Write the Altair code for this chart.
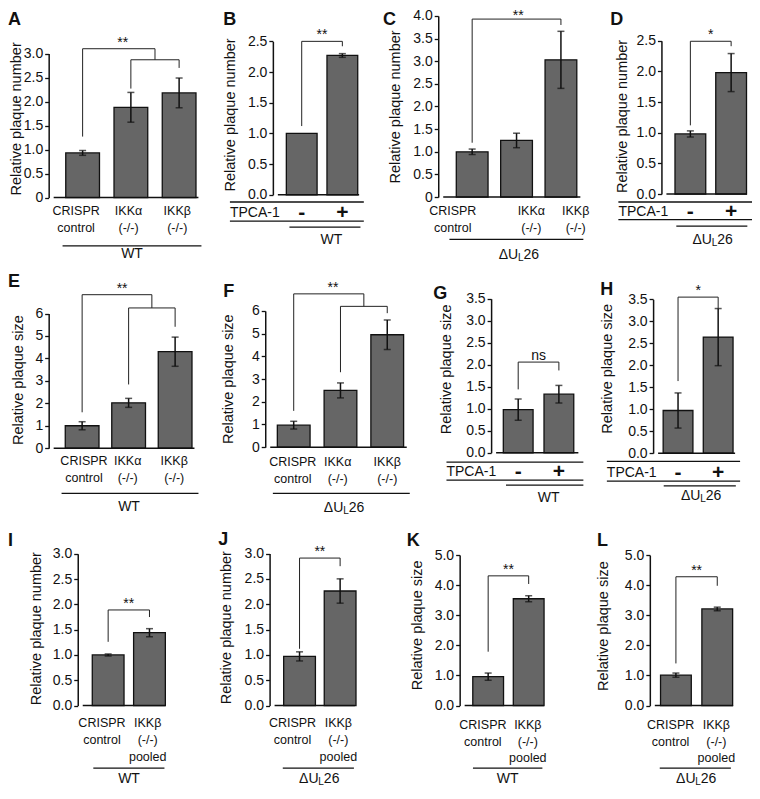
import altair as alt
import pandas as pd

FONT = "Liberation Sans"
INK = "#111111"
BAR = "#666666"

# ---------------- categories ----------------
ko3_labels = ["CRISPR\ncontrol", "IKKα\n(-/-)", "IKKβ\n(-/-)"]
tpca_labels = ["-", "+"]
pooled_labels = ["CRISPR\ncontrol", "IKKβ\n(-/-)\npooled"]

# ---------------- values (mean, error) ----------------
A_vals = [0.93, 1.88, 2.18]
A_errs = [0.05, 0.31, 0.31]
B_vals = [1.00, 2.27]
B_errs = [0.0, 0.03]
C_vals = [1.00, 1.25, 3.03]
C_errs = [0.06, 0.16, 0.63]
D_vals = [0.98, 1.98]
D_errs = [0.05, 0.31]
E_vals = [1.00, 2.02, 4.30]
E_errs = [0.18, 0.20, 0.65]
F_vals = [0.97, 2.50, 4.95]
F_errs = [0.17, 0.33, 0.65]
G_vals = [0.98, 1.33]
G_errs = [0.24, 0.20]
H_vals = [0.97, 2.64]
H_errs = [0.40, 0.65]
I_vals = [1.00, 1.44]
I_errs = [0.02, 0.08]
J_vals = [0.97, 2.26]
J_errs = [0.09, 0.24]
K_vals = [0.96, 3.55]
K_errs = [0.12, 0.10]
L_vals = [1.01, 3.21]
L_errs = [0.07, 0.06]

# ---------------- tick labels ----------------
ticks_30 = [0, 0.5, 1.0, 1.5, 2.0, 2.5, 3.0]
ticks_25 = [0, 0.5, 1.0, 1.5, 2.0, 2.5]
ticks_40 = [0, 0.5, 1.0, 1.5, 2.0, 2.5, 3.0, 3.5, 4.0]
ticks_6 = [0, 1, 2, 3, 4, 5, 6]
ticks_35 = [0, 0.5, 1.0, 1.5, 2.0, 2.5, 3.0, 3.5]
ticks_5 = [0, 1, 2, 3, 4, 5]

FMT = {
    "zero0": "datum.value == 0 ? '0' : format(datum.value, '.1f')",
    "int": "format(datum.value, 'd')",
    "f1": "format(datum.value, '.1f')",
}

NUM = "Relative plaque number"
SIZE = "Relative plaque size"

# layout / annotation settings, in figure pixel coordinates
cfgA = dict(letter="A", lx=8, lyb=25, ox=49, y0=199.5, ppu=48.5, sp=52, xmin=-0.6, W=156,
            ticks=ticks_30, fmt="zero0", ytitle=NUM, tcx=17, tcy=120, bw=34,
            brackets=[(0, 1.5, 1.27, 3.1, 2.87), (1, 2, 2.27, 2.87, 2.7)], star=("**", 0.83, 3.1, -2),
            cat_top=207.3, lh=17, cat_dx=[-7, -2.5, -2],
            group=("WT", 63, 203, 248.3, 133, 257))
cfgB = dict(letter="B", lx=225, lyb=25, ox=275, y0=196.7, ppu=62, sp=46, xmin=-0.587, W=92,
            ticks=ticks_25, fmt="f1", ytitle=NUM, tcx=232.5, tcy=116, bw=31,
            brackets=[(0, 1, 1.12, 2.5, 2.42)], star=("**", 0.5, 2.5, -2),
            tpca=dict(l1=204, row=215.3, l2=223.3, x1=231.7, x2=366.7),
            group=("WT", 291.7, 363.3, 229.3, 334, 242.7))
cfgC = dict(letter="C", lx=386, lyb=25, ox=441.7, y0=199, ppu=45.75, sp=48, xmin=-0.652, W=148.3,
            ticks=ticks_40, fmt="zero0", ytitle=NUM, tcx=399, tcy=108, bw=32,
            brackets=[(0, 2, 1.2, 3.93, 3.8)], star=("**", 1.04, 3.93, 1),
            cat_top=207.3, lh=17, cat_dx=[-21, 16, 16],
            group=("ΔUL26", 453, 588, 241.7, 523, 257.5))
cfgD = dict(letter="D", lx=615, lyb=25, ox=666.7, y0=196, ppu=62, sp=46.2, xmin=-0.587, W=91.3,
            ticks=ticks_25, fmt="f1", ytitle=NUM, tcx=627.5, tcy=117.5, bw=31,
            brackets=[(0, 1, 1.12, 2.49, 2.41)], star=("*", 0.5, 2.49, -2),
            tpca=dict(l1=204, row=214.2, l2=221.7, x1=623.3, x2=758),
            group=("ΔUL26", 681.7, 753.3, 228.3, 718.3, 242.7))

cfgE = dict(letter="E", lx=8, lyb=290, ox=49, y0=452.7, ppu=22.67, sp=50.2, xmin=-0.612, W=152,
            ticks=ticks_6, fmt="int", ytitle=SIZE, tcx=19, tcy=384, bw=34,
            brackets=[(0, 1.5, 1.6, 6.84, 6.25), (1, 2, 2.84, 6.25, 5.41)], star=("**", 0.86, 6.84, -2),
            cat_top=459.8, lh=17, cat_dx=[2, -1, -1],
            group=("WT", 62, 200, 498.3, 130, 512))
cfgF = dict(letter="F", lx=225, lyb=300, ox=267.3, y0=451.7, ppu=22.95, sp=50.6, xmin=-0.502, W=147.7,
            ticks=ticks_6, fmt="int", ytitle=SIZE, tcx=231, tcy=383, bw=33,
            brackets=[(0, 1.5, 1.6, 6.75, 6.2), (1, 2, 3.3, 6.2, 5.9)], star=("**", 0.84, 6.75, -2),
            cat_top=460.8, lh=17, cat_dx=[-1, -3, 0],
            group=("ΔUL26", 275, 413, 498.3, 346.7, 513))
cfgG = dict(letter="G", lx=436.7, lyb=301.7, ox=495, y0=457.3, ppu=44.46, sp=46, xmin=-0.543, W=93,
            ticks=ticks_35, fmt="f1", ytitle=SIZE, tcx=451, tcy=373, bw=30,
            brackets=[(0, 1, 1.44, 2.06, 1.87)], star=("ns", 0.5, 2.06, -2),
            tpca=dict(l1=466.7, row=477, l2=485, x1=450, x2=588),
            group=("WT", 510, 588, 490, 553, 503))
cfgH = dict(letter="H", lx=605, lyb=298.3, ox=658.3, y0=457.7, ppu=44.4, sp=45.7, xmin=-0.497, W=87.7,
            ticks=ticks_35, fmt="f1", ytitle=SIZE, tcx=612.5, tcy=372.5, bw=30,
            brackets=[(0, 1, 1.64, 3.55, 3.29)], star=("*", 0.5, 3.55, -2),
            tpca=dict(l1=466, row=477.3, l2=486, x1=611.7, x2=746),
            group=("ΔUL26", 669, 741.7, 490.7, 706.7, 501))

cfgI = dict(letter="I", lx=8, lyb=551.7, ox=78.3, y0=712.7, ppu=51.1, sp=46.7, xmin=-0.615, W=93.4,
            ticks=ticks_30, fmt="f1", ytitle=NUM, tcx=37.5, tcy=635, bw=32,
            brackets=[(0, 1, 1.26, 1.89, 1.75)], star=("**", 0.5, 1.89, -2),
            cat_top=724.5, lh=17, cat_dx=[-7, -2],
            group=("WT", 94, 776, 776, 130, 787)) if False else dict(
            letter="I", lx=8, lyb=551.7, ox=78.3, y0=712.7, ppu=51.1, sp=46.7, xmin=-0.615, W=93.4,
            ticks=ticks_30, fmt="f1", ytitle=NUM, tcx=37.5, tcy=635, bw=32,
            brackets=[(0, 1, 1.26, 1.89, 1.75)], star=("**", 0.5, 1.89, -2),
            cat_top=724.5, lh=17, cat_dx=[-7, -2],
            group=("WT", 94, 165.7, 776, 130, 787))
cfgJ = dict(letter="J", lx=220, lyb=550, ox=271.7, y0=712.7, ppu=51.2, sp=46, xmin=-0.615, W=91,
            ticks=ticks_30, fmt="f1", ytitle=NUM, tcx=229, tcy=634, bw=32,
            brackets=[(0, 1, 1.12, 2.91, 2.75)], star=("**", 0.5, 2.91, -2),
            cat_top=724.5, lh=17, cat_dx=[-8, -2],
            group=("ΔUL26", 285, 356.7, 776, 321.7, 787))
cfgK = dict(letter="K", lx=410, lyb=551.7, ox=463.3, y0=712.7, ppu=30.4, sp=46, xmin=-0.58, W=90,
            ticks=ticks_5, fmt="f1", ytitle=SIZE, tcx=421, tcy=631.7, bw=31,
            brackets=[(0, 1, 1.79, 4.31, 4.04)], star=("**", 0.5, 4.31, -2),
            cat_top=726, lh=17, cat_dx=[-6, -1],
            group=("WT", 476.7, 546.7, 776, 511.7, 787))
cfgL = dict(letter="L", lx=601.7, lyb=551.7, ox=655, y0=712.7, ppu=30.4, sp=47, xmin=-0.51, W=89,
            ticks=ticks_5, fmt="f1", ytitle=SIZE, tcx=609, tcy=632.5, bw=31,
            brackets=[(0, 1, 1.40, 4.28, 3.98)], star=("**", 0.5, 4.28, -2),
            cat_top=726, lh=17, cat_dx=[-6, -1],
            group=("ΔUL26", 665, 736.7, 776, 701.7, 787))

ONE = pd.DataFrame({"k": [0]})

# the page has an 8px margin: map figure pixels onto the drawing area
CW, CH = 744, 781
KX = CW / (758 - 8)
KY = CH / (797 - 8)


def gx(v):
    return max(0.0, (v - 8) * KX)


def gy(v):
    return max(0.0, (v - 8) * KY)


def txt(text, x, y, size=14, weight="normal", align="center", baseline="middle", angle=0):
    kw = dict(text=text, font=FONT, fontSize=size, fontWeight=weight, color=INK,
              align=align, baseline=baseline)
    if angle:
        kw["angle"] = angle
    return alt.Chart(ONE).mark_text(**kw).encode(x=alt.value(gx(x)), y=alt.value(gy(y)))


def hline(x1, x2, y, width=1.3):
    return alt.Chart(ONE).mark_rule(color=INK, strokeWidth=width).encode(
        x=alt.value(gx(x1)), x2=alt.value(gx(x2)), y=alt.value(gy(y)))


def panel(cfg, cats, vals, errs):
    ox, y0, ppu, sp, xmin, W = cfg["ox"], cfg["y0"], cfg["ppu"], cfg["sp"], cfg["xmin"], cfg["W"]
    tmax = cfg["ticks"][-1]
    xmax = xmin + W / sp
    xs = alt.Scale(domain=[xmin, xmax], range=[gx(ox), gx(ox + W)], nice=False, zero=False)
    ys = alt.Scale(domain=[0, tmax], range=[gy(y0), gy(y0 - tmax * ppu)], nice=False, zero=False)
    yaxis = alt.Axis(orient="left", offset=-gx(ox), values=cfg["ticks"], labelExpr=FMT[cfg["fmt"]],
                     domain=True, domainColor=INK, domainWidth=1.5, grid=False,
                     ticks=True, tickSize=4, tickColor=INK, tickWidth=1.3,
                     labelFont=FONT, labelFontSize=14, labelColor=INK, labelPadding=2,
                     title=None, labelOverlap=False, labelBound=False)

    def X(f):
        return alt.X(f"{f}:Q", scale=xs, axis=None)

    def Y(f):
        return alt.Y(f"{f}:Q", scale=ys, axis=yaxis)

    n = len(vals)
    df = pd.DataFrame({
        "x": list(range(n)), "v": vals, "z": [0] * n, "e": errs,
        "lo": [v - e for v, e in zip(vals, errs)],
        "hi": [v + e for v, e in zip(vals, errs)],
        "t": cats,
    })
    dfe = df[df["e"] > 0]
    caps = pd.concat([dfe[["x"]].assign(c=dfe["lo"]), dfe[["x"]].assign(c=dfe["hi"])])

    layers = [
        alt.Chart(df).mark_bar(size=cfg["bw"] * KX, fill=BAR, stroke=INK, strokeWidth=1.3,
                               orient="vertical").encode(x=X("x"), y=Y("v"), y2=alt.Y2("z")),
        alt.Chart(dfe).mark_rule(color=INK, strokeWidth=1.5).encode(x=X("x"), y=Y("lo"), y2=alt.Y2("hi")),
        alt.Chart(caps).mark_tick(orient="horizontal", size=7, thickness=1.5, color=INK).encode(
            x=X("x"), y=Y("c")),
        alt.Chart(pd.DataFrame({"x": [xmin], "x2": [xmax], "y": [0]})).mark_rule(
            color=INK, strokeWidth=1.5).encode(x=X("x"), x2=alt.X2("x2"), y=Y("y")),
    ]

    segs = []
    for (a, b, yl, yt, yr) in cfg["brackets"]:
        segs += [dict(x=a, x2=a, y=yl, y2=yt), dict(x=a, x2=b, y=yt, y2=yt), dict(x=b, x2=b, y=yt, y2=yr)]
    layers.append(alt.Chart(pd.DataFrame(segs)).mark_rule(color="#222222", strokeWidth=1).encode(
        x=X("x"), x2=alt.X2("x2"), y=Y("y"), y2=alt.Y2("y2")))
    s_text, s_x, s_y, s_dy = cfg["star"]
    layers.append(alt.Chart(pd.DataFrame({"x": [s_x], "y": [s_y], "t": [s_text]})).mark_text(
        font=FONT, fontSize=14, color=INK, baseline="alphabetic", dy=s_dy).encode(
        x=X("x"), y=Y("y"), text="t:N"))

    layers.append(txt(cfg["ytitle"], cfg["tcx"], cfg["tcy"], size=14.5, angle=270))
    layers.append(txt(cfg["letter"], cfg["lx"], cfg["lyb"], size=18, weight="bold",
                      align="left", baseline="alphabetic"))

    if "tpca" in cfg:
        tp = cfg["tpca"]
        layers.append(hline(tp["x1"], tp["x2"], tp["l1"]))
        layers.append(hline(tp["x1"], tp["x2"], tp["l2"]))
        layers.append(txt("TPCA-1", tp["x1"], tp["row"], size=14, align="left"))
        layers.append(alt.Chart(df).mark_text(font=FONT, fontSize=21, fontWeight="bold", color=INK,
                                               baseline="middle").encode(
            x=X("x"), y=alt.value(gy(tp["row"])), text="t:N"))
    else:
        dfl = df.assign(xl=[i + d / sp for i, d in zip(range(n), cfg["cat_dx"])])
        layers.append(alt.Chart(dfl).mark_text(font=FONT, fontSize=12.5, color=INK, baseline="top",
                                                lineBreak="\n", lineHeight=cfg["lh"] * KY).encode(
            x=X("xl"), y=alt.value(gy(cfg["cat_top"])), text="t:N"))

    g_text, gx1, gx2, gyl, gcx, gcy = cfg["group"]
    layers.append(hline(gx1, gx2, gyl))
    if g_text == "WT":
        layers.append(txt("WT", gcx, gcy, size=14))
    else:
        fs = 14
        w1, w2, w3 = 1.389 * fs, 0.556 * 10, 1.112 * fs
        left = gcx - (w1 + w2 + w3) / 2
        layers.append(txt("ΔU", left, gcy, size=fs, align="left"))
        layers.append(txt("L", left + w1, gcy + 3, size=10, align="left"))
        layers.append(txt("26", left + w1 + w2, gcy, size=fs, align="left"))

    return alt.layer(*layers)


panels = [
    panel(cfgA, ko3_labels, A_vals, A_errs),
    panel(cfgB, tpca_labels, B_vals, B_errs),
    panel(cfgC, ko3_labels, C_vals, C_errs),
    panel(cfgD, tpca_labels, D_vals, D_errs),
    panel(cfgE, ko3_labels, E_vals, E_errs),
    panel(cfgF, ko3_labels, F_vals, F_errs),
    panel(cfgG, tpca_labels, G_vals, G_errs),
    panel(cfgH, tpca_labels, H_vals, H_errs),
    panel(cfgI, pooled_labels, I_vals, I_errs),
    panel(cfgJ, pooled_labels, J_vals, J_errs),
    panel(cfgK, pooled_labels, K_vals, K_errs),
    panel(cfgL, pooled_labels, L_vals, L_errs),
]

chart = alt.layer(*panels).resolve_scale(x="independent", y="independent").properties(
    width=CW, height=CH, padding=0, background="white",
    autosize=alt.AutoSizeParams(type="none"),
).configure_view(stroke=None)

chart.save("out.html", embed_options={"renderer": "svg", "actions": False})
